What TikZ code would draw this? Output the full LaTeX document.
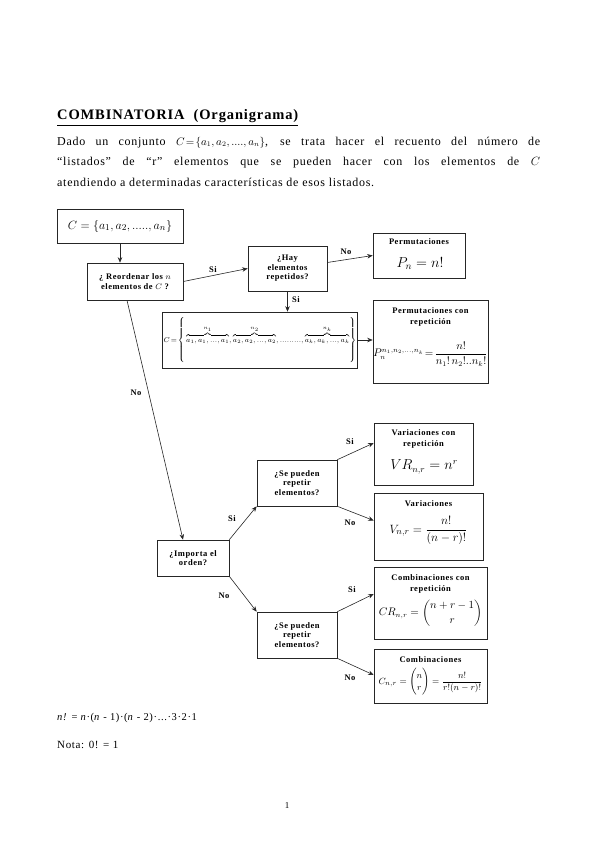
\documentclass[tikz,border=0pt]{standalone}
\usepackage{amsmath}
\usepackage{fontspec}
\setmainfont{Liberation Serif}
\newfontfamily\lsfont[LetterSpace=6]{Liberation Serif}
\usetikzlibrary{arrows.meta,calc}
\begin{document}
\begin{tikzpicture}[x=1pt,y=-1pt,
  box/.style={draw=black!85,line width=0.6pt,inner sep=1pt,align=center,font=\lsfont\bfseries\fontsize{8.5}{9.6}\selectfont},
  ttl/.style={inner sep=0pt,align=center,font=\lsfont\bfseries\fontsize{8.5}{11}\selectfont},
  fml/.style={inner sep=0pt},
  conn/.style={draw=black!85,line width=0.6pt,-{Stealth[length=5.5pt,width=4.5pt]}},
  lbl/.style={font=\lsfont\bfseries\fontsize{8.5}{10}\selectfont,inner sep=0pt},
  ptxt/.style={anchor=base west,inner sep=0pt,font=\lsfont\fontsize{12}{14}\selectfont}]
\useasboundingbox (0,0) rectangle (599,848);

% header text
\node[anchor=base west,inner sep=0pt,font=\lsfont\bfseries\fontsize{14.5}{16}\selectfont] (title) at (57,120)
  {\underline{COMBINATORIA\ \ (Organigrama)}};
\node[ptxt] (p1) at (57,145)
  {\hbox to 483pt{Dado un conjunto \hbox{\fontsize{10.5}{12}\selectfont$C\!=\!\{a_1,a_2,....,a_n\}$}, se trata hacer el recuento del número de}};
\node[ptxt] (p2) at (57,165.5)
  {\hbox to 483pt{“listados” de “r” elementos que se pueden hacer con los elementos de \hbox{$C$}}};
\node[ptxt] (p3) at (57,186)
  {atendiendo a determinadas características de esos listados.};

% decision / start boxes
\node[box,minimum width=126pt,minimum height=34pt,font=\fontsize{13}{15}\selectfont] (C0) at (120,226)
  {$C=\left\{a_1,a_2,.....,a_n\right\}$};
\node[box,minimum width=96pt,minimum height=37pt] (reord) at (135,281.5)
  {¿ Reordenar los $n$\\ elementos de $C$ ?};
\node[box,minimum width=79pt,minimum height=45pt] (hay) at (287.5,268.5)
  {¿Hay\\elementos\\repetidos?};
\node[box,minimum width=186pt,minimum height=56pt,font=\fontsize{6.8}{8}\selectfont] (multi) at (260,340)
  {$C\!=\!\left\{\rule[-22pt]{0pt}{48pt}\overbrace{a_1,a_1,...,a_1}^{n_1},\overbrace{a_2,a_2,...,a_2}^{n_2},.........,\overbrace{a_k,a_k,...,a_k}^{n_k}\right\}$};
\node[box,minimum width=72pt,minimum height=36pt] (importa) at (193,558)
  {¿Importa el\\orden?};
\node[box,minimum width=80pt,minimum height=46pt] (se1) at (297,483)
  {¿Se pueden\\repetir\\elementos?};
\node[box,minimum width=80pt,minimum height=46pt] (se2) at (297,635)
  {¿Se pueden\\repetir\\elementos?};

% result boxes (frame + title + formula)
\node[box,minimum width=92pt,minimum height=45pt] (perm) at (419,255.5) {};
\node[ttl] (permT) at (419,242) {Permutaciones};
\node[fml,font=\fontsize{14}{16}\selectfont] (permF) at (420,263.5) {$P_n=n!$};

\node[box,minimum width=115pt,minimum height=83pt] (PR) at (430.5,341.5) {};
\node[ttl] (PRT) at (430.5,316.5) {Permutaciones con\\repetición};
\node[fml,font=\fontsize{10.5}{12}\selectfont] (PRF) at (430.5,354)
  {$P_n^{n_1,n_2,\dots,n_k}\!=\!\dfrac{n!}{n_1!\,n_2!..n_k!}$};

\node[box,minimum width=99pt,minimum height=62pt] (VR) at (423.5,454) {};
\node[ttl] (VRT) at (423.5,439) {Variaciones con\\repetición};
\node[fml,font=\fontsize{13.5}{16}\selectfont] (VRF) at (424,467) {$VR_{n,r}=n^r$};

\node[box,minimum width=109pt,minimum height=67pt] (V) at (428.5,526.5) {};
\node[ttl] (VT) at (428.5,504) {Variaciones};
\node[fml,font=\fontsize{12.3}{15}\selectfont] (VF) at (428.5,530.5) {$V_{n,r}=\dfrac{n!}{(n-r)!}$};

\node[box,minimum width=113pt,minimum height=72pt] (CR) at (430.5,603) {};
\node[ttl] (CRT) at (430.5,584) {Combinaciones con\\repetición};
\node[fml,font=\fontsize{10.5}{12}\selectfont] (CRF) at (430.5,613) {$CR_{n,r}=\dbinom{n+r-1}{r}$};

\node[box,minimum width=113pt,minimum height=54pt] (Cb) at (430.5,676) {};
\node[ttl] (CbT) at (430.5,659.5) {Combinaciones};
\node[fml,font=\fontsize{9.3}{11}\selectfont] (CbF) at (430.5,682) {$C_{n,r}=\dbinom{n}{r}=\dfrac{n!}{r!(n-r)!}$};

% connectors
\draw[conn] (C0.south) -- (C0.south |- reord.north);
\draw[conn] (reord.east) -- (hay.west);
\draw[conn] ($(hay.east)+(0,-6)$) -- (perm.west);
\draw[conn] (hay.south) -- (hay.south |- multi.north);
\draw[conn] (multi.east) -- (multi.east -| PR.west);
\draw[conn] ($(reord.south)+(-8,0)$) -- ($(importa.north)+(-10,0)$);
\draw[conn] (importa.north east) -- (se1.south west);
\draw[conn] (importa.south east) -- (se2.north west);
\draw[conn] (se1.north east) -- ($(VR.west)+(0,-11)$);
\draw[conn] (se1.south east) -- ($(V.west)+(0,-6)$);
\draw[conn] (se2.north east) -- ($(CR.west)+(0,-9)$);
\draw[conn] (se2.south east) -- ($(Cb.west)+(0,-1)$);

% labels
\node[lbl] (l1) at (213,270) {Si};
\node[lbl] (l2) at (346,252) {No};
\node[lbl] (l3) at (296,300) {Si};
\node[lbl] (l4) at (136,393) {No};
\node[lbl] (l5) at (232,519) {Si};
\node[lbl] (l6) at (224,596) {No};
\node[lbl] (l7) at (350,442) {Si};
\node[lbl] (l8) at (350,523) {No};
\node[lbl] (l9) at (352,590) {Si};
\node[lbl] (l10) at (350,678) {No};

% footer
\node[anchor=base west,inner sep=0pt,font=\lsfont\fontsize{10.5}{12}\selectfont] (fact) at (57,720)
  {\textit{n!} = \textit{n}·(\textit{n} - 1)·(\textit{n} - 2)·...·3·2·1};
\node[anchor=base west,inner sep=0pt,font=\lsfont\fontsize{11}{12}\selectfont] (nota) at (57,748)
  {Nota: 0! = 1};
\node[anchor=base,inner sep=0pt,font=\fontsize{9}{11}\selectfont] (pg) at (287,808) {1};
\end{tikzpicture}
\end{document}
